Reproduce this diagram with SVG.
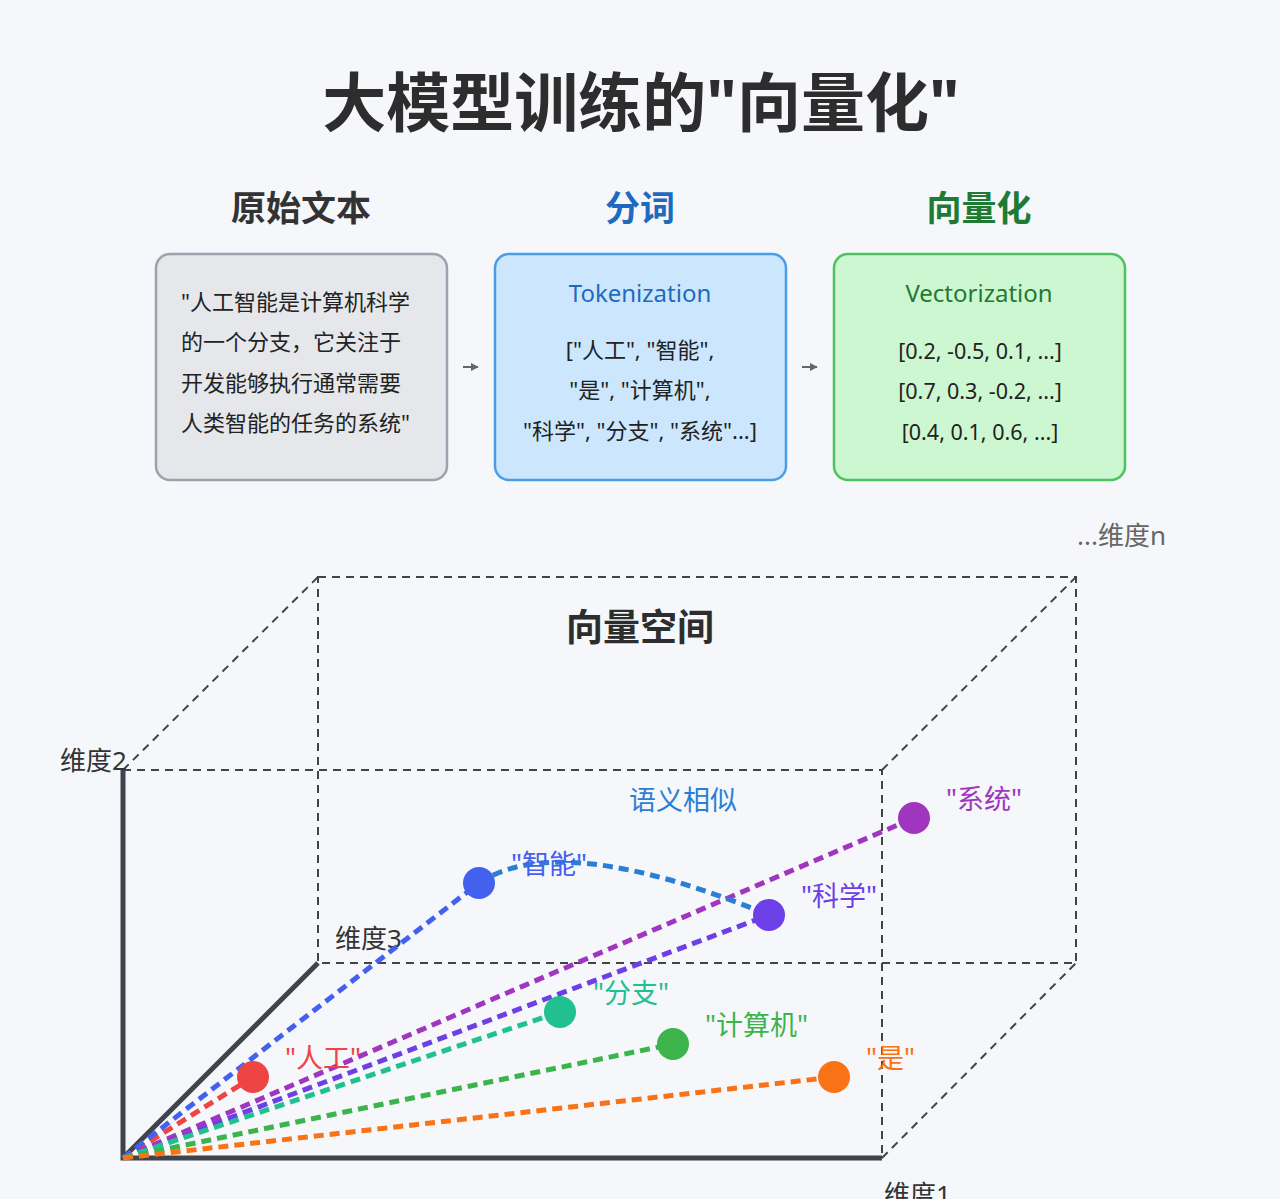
<svg xmlns="http://www.w3.org/2000/svg" width="1280" height="1199" viewBox="0 0 1280 1199">
<defs>
<style>
text{font-family:"Noto Sans","Noto Sans CJK SC",sans-serif;}
.title{font-size:64px;font-weight:bold;fill:#2d2d2d;text-anchor:middle;}
.head{font-size:35px;font-weight:bold;text-anchor:middle;}
.body{font-size:22px;fill:#222;}
.num{font-size:21.5px;fill:#222;text-anchor:middle;}
.mid{text-anchor:middle;}
.ax{font-size:26px;fill:#333;}
.dimn{font-size:26px;fill:#666;}
.lbl{font-size:27px;}
.cube{fill:none;stroke:#444;stroke-width:2;stroke-dasharray:8,6;}
.axis{stroke:#3f444c;stroke-width:5;fill:none;}
.vec{stroke-width:5;stroke-dasharray:10,6;fill:none;}
.flow{stroke:#666;stroke-width:2;}
</style>
<marker id="ah" viewBox="0 0 10 10" refX="9" refY="5" markerWidth="4" markerHeight="4" orient="auto"><path d="M0,0 L10,5 L0,10 z" fill="#666"/></marker>
</defs>
<rect width="1280" height="1199" fill="#f5f7fa"/>
<text class="title" x="641" y="126">大模型训练的"向量化"</text>

<g id="raw">
<text class="head" x="301" y="221" fill="#333">原始文本</text>
<rect x="156" y="254" width="291" height="226" rx="14" fill="#e5e7eb" stroke="#9ca3af" stroke-width="2.5"/>
<text class="body" x="181" y="310">"人工智能是计算机科学</text>
<text class="body" x="181" y="350">的一个分支，它关注于</text>
<text class="body" x="181" y="391">开发能够执行通常需要</text>
<text class="body" x="181" y="431">人类智能的任务的系统"</text>
</g>
<g id="token">
<text class="head" x="640" y="221" fill="#1e6ac0">分词</text>
<rect x="495" y="254" width="291" height="226" rx="14" fill="#cce7fd" stroke="#4a9ee8" stroke-width="2.5"/>
<text class="mid" x="640" y="302" font-size="24" fill="#1e6ac0">Tokenization</text>
<text class="body mid" x="640" y="358">["人工", "智能",</text>
<text class="body mid" x="640" y="398">"是", "计算机",</text>
<text class="body mid" x="640" y="439">"科学", "分支", "系统"...]</text>
</g>
<g id="vector">
<text class="head" x="979" y="221" fill="#1f7a34">向量化</text>
<rect x="834" y="254" width="291" height="226" rx="14" fill="#cdf7d0" stroke="#4cc35e" stroke-width="2.5"/>
<text class="mid" x="979" y="302" font-size="24" fill="#1f7a34">Vectorization</text>
<text class="num" x="980" y="359">[0.2, -0.5, 0.1, ...]</text>
<text class="num" x="980" y="399">[0.7, 0.3, -0.2, ...]</text>
<text class="num" x="980" y="440">[0.4, 0.1, 0.6, ...]</text>
</g>
<g id="flow-connectors">
<line class="flow" x1="463" y1="367" x2="478" y2="367" marker-end="url(#ah)"/>
<line class="flow" x1="802" y1="367" x2="817" y2="367" marker-end="url(#ah)"/>
</g>

<g id="space">
<text class="dimn" x="1077" y="545">...维度n</text>
<text class="mid" x="640" y="641" font-size="37" font-weight="bold" fill="#2d2d2d">向量空间</text>
<rect class="cube" x="318" y="577" width="758" height="386"/>
<path class="cube" d="M123,770 H882 V1158 M123,770 L318,577 M882,770 L1076,577 M882,1158 L1076,963"/>
<path class="axis" d="M123,770 V1158 H882 M123,1158 L318,963"/>
<text class="ax" x="60" y="770">维度2</text>
<text class="ax" x="335" y="948">维度3</text>
<text class="ax" x="884" y="1204">维度1</text>
<text class="lbl mid" x="683" y="810" fill="#2a7fd4">语义相似</text>
</g>

<g id="connectors">
<line class="vec" x1="123" y1="1158" x2="253" y2="1077" stroke="#ef4444"/>
<line class="vec" x1="123" y1="1158" x2="479" y2="883" stroke="#4361ee"/>
<line class="vec" x1="123" y1="1158" x2="769" y2="915" stroke="#6d3fe6"/>
<line class="vec" x1="123" y1="1158" x2="914" y2="818" stroke="#a035c0"/>
<line class="vec" x1="123" y1="1158" x2="560" y2="1012" stroke="#20c090"/>
<line class="vec" x1="123" y1="1158" x2="673" y2="1044" stroke="#3cb44b"/>
<line class="vec" x1="123" y1="1158" x2="834" y2="1077" stroke="#f97316"/>
<path class="vec" d="M479,883 Q560,829 769,915" stroke="#2a7fd4"/>
</g>

<g id="w-rengong"><circle cx="253" cy="1077" r="16" fill="#ef4444"/><text class="lbl" x="285" y="1068" fill="#ef4444">"人工"</text></g>
<g id="w-zhineng"><circle cx="479" cy="883" r="16" fill="#4361ee"/><text class="lbl" x="511" y="874" fill="#4361ee">"智能"</text></g>
<g id="w-kexue"><circle cx="769" cy="915" r="16" fill="#6d3fe6"/><text class="lbl" x="801" y="906" fill="#6d3fe6">"科学"</text></g>
<g id="w-xitong"><circle cx="914" cy="818" r="16" fill="#a035c0"/><text class="lbl" x="946" y="809" fill="#a035c0">"系统"</text></g>
<g id="w-fenzhi"><circle cx="560" cy="1012" r="16" fill="#20c090"/><text class="lbl" x="593" y="1003" fill="#20c090">"分支"</text></g>
<g id="w-jisuanji"><circle cx="673" cy="1044" r="16" fill="#3cb44b"/><text class="lbl" x="705" y="1035" fill="#3cb44b">"计算机"</text></g>
<g id="w-shi"><circle cx="834" cy="1077" r="16" fill="#f97316"/><text class="lbl" x="866" y="1068" fill="#f97316">"是"</text></g>
</svg>
